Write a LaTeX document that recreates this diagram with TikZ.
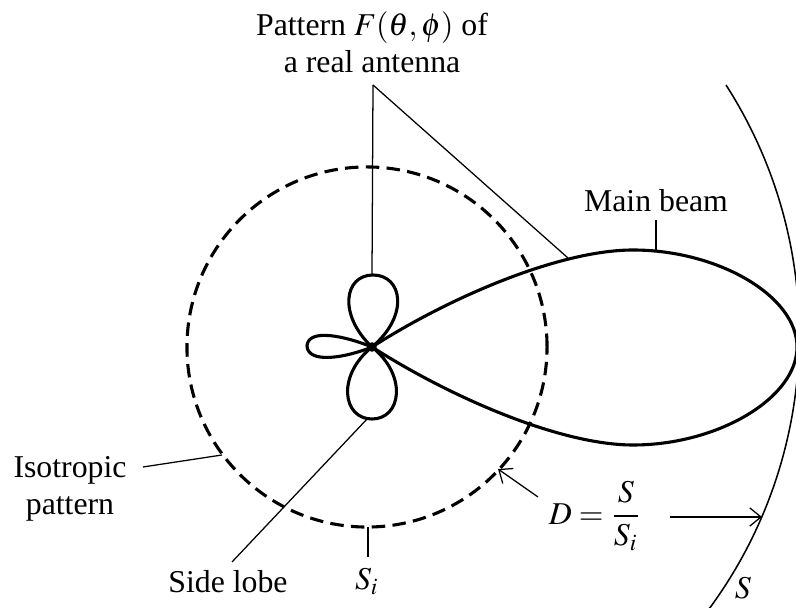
\documentclass[tikz,border=0pt]{standalone}
\usepackage{mathptmx}
\usepackage{fontspec}
\setmainfont{Liberation Serif}
\usetikzlibrary{arrows.meta}

\begin{document}
\begin{tikzpicture}[
  x=0.0125cm, y=-0.0125cm,
  every node/.style={font=\fontsize{11.3}{13.1}\selectfont, inner sep=0pt},
  beam/.style={draw, line width=1.1pt, line join=round},
  isotropic/.style={draw, line width=1.1pt, dash pattern=on 4.8pt off 2.6pt},
  leader/.style={draw, line width=0.45pt},
  pointer/.style={leader, -{Straight Barb[length=4pt, width=6.5pt]}}
]
\clip (0,0) rectangle (796,608);

% antenna and the points the leaders run to
\coordinate (O) at (372,347);
\coordinate (apex) at (373,85);
\coordinate (lobetop) at (372,275);
\coordinate (beamhit) at (568,258);
\coordinate (maintick) at (656,220);
\coordinate (beamtop) at (656,250);
\coordinate (isostart) at (143,467);
\coordinate (isohit) at (222,455);
\coordinate (sidehit) at (368,418);
\coordinate (sidestart) at (232,562);
\coordinate (sihit) at (368,527);
\coordinate (sistart) at (368,557);
\coordinate (dstart) at (538,497);
\coordinate (dtip) at (498,469);
\coordinate (sstart) at (670,517);
\coordinate (stip) at (762,517);

% isotropic pattern
\draw[isotropic] (367,347) circle[radius=2.25cm];

% main beam and side lobes
\draw[beam] (O) .. controls (450,297) and (560,250) .. (633,250)
  .. controls (718,250) and (797,296) .. (797,347)
  .. controls (797,398) and (718,445) .. (633,445)
  .. controls (560,445) and (450,397) .. (O);
\draw[beam] (O) .. controls (338,315) and (344,275) .. (373,275)
  .. controls (402,275) and (410,315) .. (O);
\draw[beam] (O) .. controls (336,376) and (343,419) .. (372,419)
  .. controls (401,419) and (408,376) .. (O);
\draw[beam] (O) .. controls (345,336) and (308,328) .. (307,346)
  .. controls (308,364) and (345,358) .. (O);
\fill (O) circle[radius=0.06cm];

% sphere S
\draw[line width=0.55pt] (726,85) arc[start angle=32.7, end angle=-40, radius=5.775cm];

% labels
\node[align=center] (title) at (372,42) {Pattern $F(\theta,\phi)$ of\\a real antenna};
\node[anchor=base] (mainlabel) at (656,212) {Main beam};
\node[align=center] (isolabel) at (70,489) {Isotropic\\pattern};
\node[anchor=base] (sidelabel) at (228,593) {Side lobe};
\node[anchor=base] (silabel) at (367,590) {$S_i$};
\node (dlabel) at (595,516) {$\displaystyle D=\frac{S}{S_i}$};
\node[anchor=base] (slabel) at (743,599) {$S$};

% leaders
\draw[leader] (apex) -- (lobetop);
\draw[leader] (apex) -- (beamhit);
\draw[leader] (maintick) -- (beamtop);
\draw[leader] (isostart) -- (isohit);
\draw[leader] (sidehit) -- (sidestart);
\draw[leader] (sihit) -- (sistart);
\draw[pointer] (dstart) -- (dtip);
\draw[pointer] (sstart) -- (stip);
\end{tikzpicture}
\end{document}
